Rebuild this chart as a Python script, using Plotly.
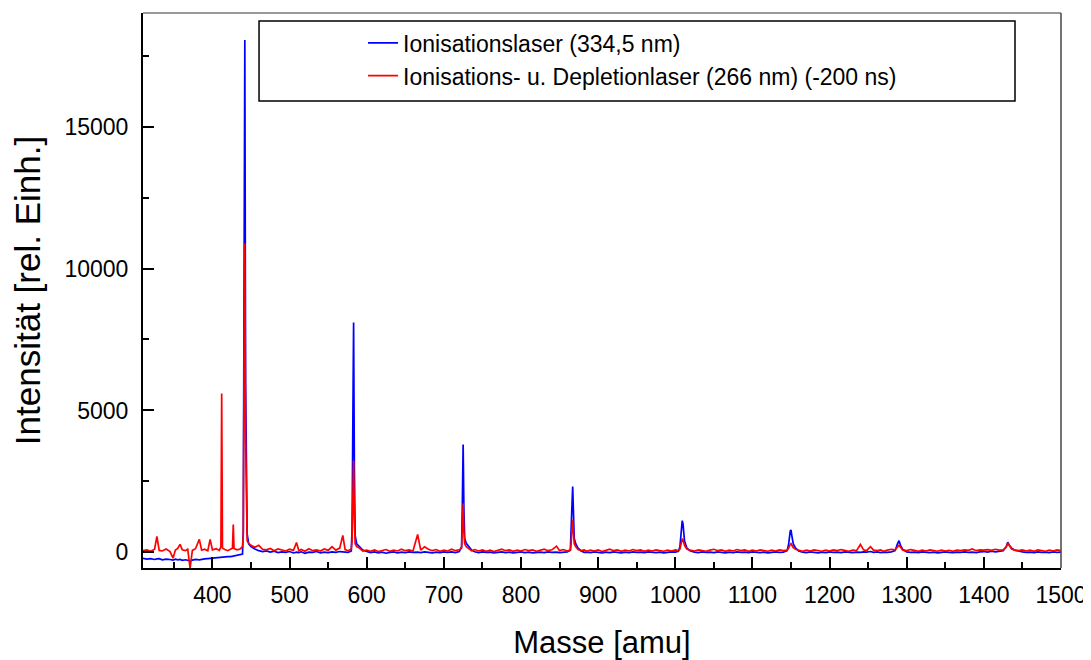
import plotly.graph_objects as go

# Mass axis (amu) - shared sampling positions for both spectra
masse = [
    310, 315, 320, 325, 328, 331, 335, 340, 345, 349,
    352, 355, 358, 361, 365, 368, 371, 374, 378, 383,
    386, 390, 394, 397, 400, 405, 409, 411, 412, 413,
    416, 420, 424, 426, 427, 428, 432, 436, 439, 440,
    441, 442, 443, 444, 445, 447, 450, 455, 460, 465,
    470, 475, 480, 485, 490, 495, 500, 505, 509, 512,
    515, 520, 525, 530, 535, 540, 545, 550, 555, 560,
    565, 569, 572, 576, 580, 581, 582, 583, 584, 585,
    587, 590, 595, 600, 605, 610, 615, 620, 625, 630,
    635, 640, 645, 650, 655, 660, 666, 670, 675, 680,
    685, 690, 695, 700, 705, 710, 715, 720, 723, 724,
    725, 726, 727, 729, 732, 736, 740, 745, 750, 755,
    760, 765, 770, 775, 780, 785, 790, 795, 800, 805,
    810, 815, 820, 825, 830, 835, 840, 846, 850, 855,
    860, 864, 865, 866, 867, 868, 869, 871, 874, 878,
    882, 885, 890, 895, 900, 905, 910, 915, 920, 925,
    930, 935, 940, 945, 950, 955, 960, 965, 970, 975,
    980, 985, 990, 995, 1000, 1004, 1006, 1008, 1009, 1010,
    1012, 1015, 1019, 1025, 1030, 1035, 1040, 1045, 1050, 1055,
    1060, 1065, 1070, 1075, 1080, 1085, 1090, 1095, 1100, 1105,
    1110, 1115, 1120, 1125, 1130, 1135, 1140, 1145, 1147, 1149,
    1150, 1151, 1153, 1156, 1160, 1165, 1170, 1175, 1180, 1185,
    1190, 1195, 1200, 1205, 1210, 1215, 1220, 1225, 1230, 1235,
    1240, 1244, 1248, 1253, 1257, 1262, 1266, 1270, 1275, 1280,
    1285, 1288, 1290, 1292, 1295, 1300, 1305, 1310, 1315, 1320,
    1325, 1330, 1335, 1340, 1345, 1350, 1355, 1360, 1365, 1370,
    1375, 1380, 1385, 1390, 1395, 1400, 1405, 1410, 1415, 1420,
    1425, 1429, 1431, 1433, 1436, 1440, 1445, 1450, 1455, 1460,
    1465, 1470, 1475, 1480, 1485, 1490, 1495, 1500,
]

# Ionisationslaser (334,5 nm)
ionisation = [
    -210, -240, -220, -250, -230, -220, -260, -240, -250, -270,
    -240, -260, -250, -280, -260, -270, -300, -270, -250, -260,
    -240, -230, -220, -210, -200, -190, -170, -180, -170, -160,
    -170, -150, -150, -140, -140, -130, -120, -100, -60, 800,
    9000, 18050, 6000, 900, 650, 300, 200, 120, 60, 30,
    50, 10, 40, -10, 20, 0, 30, -20, 10, -10,
    20, -30, 10, 0, 30, -20, 10, -10, 20, 0,
    30, 20, 10, 0, 50, 800, 4500, 8100, 3000, 600,
    300, 220, 80, 30, -10, 20, -20, 10, -30, 0,
    20, -20, 10, -10, 20, 0, 10, -10, 20, 0,
    -20, 10, -10, 20, 0, 20, -10, 30, 200, 1800,
    3800, 1500, 500, 320, 200, 80, 20, -10, 20, 0,
    10, -20, 0, 20, -10, 10, -20, 0, 20, -10,
    10, -20, 0, 10, -10, 20, 0, 10, -10, 0,
    20, 80, 600, 1600, 2320, 1400, 500, 300, 150, 50,
    0, 10, -10, 20, 0, -20, 10, -10, 20, 0,
    -20, 10, -10, 20, 0, 10, -10, 20, 0, -10,
    10, -20, 0, 20, 10, 40, 200, 900, 1120, 1000,
    400, 150, 60, 10, -10, 20, 0, 10, -10, 20,
    0, -20, 10, -10, 20, 0, 10, -10, 20, 0,
    -10, 10, -20, 0, 20, 0, 10, 60, 300, 750,
    790, 600, 300, 150, 50, 10, -10, 20, 0, -20,
    10, -10, 20, 0, 10, -10, 20, 0, -10, 10,
    0, 20, 10, 30, 0, 20, -10, 10, 0, 20,
    60, 300, 410, 250, 100, 20, 0, 10, -10, 20,
    0, -10, 10, -20, 0, 20, 0, -10, 10, 0,
    20, 0, 10, -10, 20, 30, 10, 40, 20, 30,
    60, 200, 360, 250, 150, 80, 40, 20, 0, 10,
    -10, 20, 0, 10, -10, 20, 0, 10,
]

# Ionisations- u. Depletionlaser (266 nm) (-200 ns)
depletion = [
    60, 90, 40, 110, 560, 70, 50, 120, 30, -200,
    80, 140, 280, 90, 60, 110, -560, 70, 130, 460,
    80, 110, 60, 460, 90, 130, 70, 200, 5600, 150,
    100, 60, 120, 150, 980, 140, 90, 120, 200, 600,
    7000, 10880, 4000, 800, 400, 320, 250, 180, 250, 110,
    90, 140, 60, 120, 80, 50, 110, 70, 350, 60,
    100, 40, 130, 60, 90, 50, 120, 70, 200, 80,
    150, 600, 100, 60, 120, 400, 1800, 3240, 1200, 300,
    200, 160, 50, 80, 40, 90, 30, 60, 100, 40,
    80, 50, 110, 60, 90, 50, 630, 80, 200, 110,
    60, 100, 40, 80, 50, 110, 60, 90, 150, 900,
    1725, 700, 300, 200, 150, 60, 100, 50, 90, 40,
    80, 30, 70, 110, 60, 90, 40, 80, 50, 100,
    60, 90, 40, 70, 110, 60, 90, 220, 60, 100,
    50, 90, 300, 800, 1150, 700, 300, 200, 100, 60,
    90, 40, 80, 50, 90, 30, 70, 110, 60, 90,
    40, 80, 50, 100, 60, 90, 40, 80, 50, 90,
    60, 40, 80, 50, 90, 60, 120, 380, 480, 450,
    250, 120, 80, 50, 90, 60, 40, 80, 110, 60,
    90, 40, 80, 50, 100, 60, 90, 40, 80, 50,
    90, 60, 40, 80, 50, 90, 60, 80, 150, 280,
    310, 260, 170, 110, 70, 40, 80, 50, 90, 60,
    40, 80, 50, 90, 60, 100, 60, 40, 80, 60,
    280, 90, 60, 200, 80, 60, 90, 40, 80, 110,
    90, 200, 250, 180, 80, 60, 100, 70, 40, 80,
    50, 90, 60, 40, 80, 50, 70, 40, 80, 60,
    90, 70, 120, 60, 90, 80, 100, 70, 110, 80,
    90, 180, 330, 250, 120, 80, 60, 90, 50, 80,
    40, 90, 60, 40, 80, 50, 90, 60,
]

series_names = ["Ionisationslaser (334,5 nm)",
                "Ionisations- u. Depletionlaser (266 nm) (-200 ns)"]
series_colors = ["#0000FF", "#FF0000"]

x_title = "Masse [amu]"
y_title = "Intensität [rel. Einh.]"
x_range = [310, 1500]
y_range = [-550, 19000]

FONT = "Liberation Sans, Arial, sans-serif"

fig = go.Figure()
for name, vals, col in zip(series_names, [ionisation, depletion], series_colors):
    fig.add_trace(go.Scatter(
        x=masse, y=vals, mode="lines", name=name,
        line=dict(color=col, width=1.7),
    ))

axis_common = dict(
    showline=True, linecolor="black", linewidth=2,
    ticks="inside", ticklen=11, tickwidth=2, tickcolor="black",
    showgrid=False, zeroline=False, mirror=False,
    tickformat="d", automargin=False,
    tickfont=dict(family=FONT, size=23, color="black"),
)

fig.update_xaxes(
    range=x_range, dtick=100, tick0=0,
    minor=dict(ticks="inside", ticklen=6, tickwidth=2, tickcolor="black", dtick=50, tick0=0),
    title=dict(text=x_title, font=dict(family=FONT, size=31, color="black"), standoff=26),
    ticklabelstandoff=5,
    **axis_common,
)
fig.update_yaxes(
    range=y_range, dtick=5000, tick0=0,
    minor=dict(ticks="inside", ticklen=6, tickwidth=2, tickcolor="black", dtick=2500, tick0=0),
    title=dict(text=y_title, font=dict(family=FONT, size=35, color="black"), standoff=16),
    ticklabelstandoff=8,
    **axis_common,
)

# frame (top/right thinner grey lines) and legend box
fig.add_shape(type="line", xref="paper", yref="paper", x0=0, x1=1, y0=1, y1=1,
              line=dict(color="#777777", width=1.5), layer="above")
fig.add_shape(type="line", xref="paper", yref="paper", x0=1, x1=1, y0=0, y1=1,
              line=dict(color="#444444", width=1.5), layer="above")
fig.add_shape(type="rect", xref="paper", yref="paper", x0=0.1264, x1=0.9499, y0=0.8413, y1=0.9856,
              line=dict(color="black", width=1.5), fillcolor="rgba(0,0,0,0)", layer="above")

# the page places the figure 8 px from the top-left corner of the window
fig.update_layout(
    width=1083, height=652,
    margin=dict(l=135, r=30, t=5, b=92),
    paper_bgcolor="white", plot_bgcolor="white",
    font=dict(family=FONT, color="black"),
    showlegend=True,
    legend=dict(
        x=0.2397, y=0.985, xanchor="left", yanchor="top",
        bgcolor="rgba(0,0,0,0)", borderwidth=0,
        font=dict(family=FONT, size=23, color="black"),
        tracegroupgap=0,
    ),
)

fig.write_html("out.html")
